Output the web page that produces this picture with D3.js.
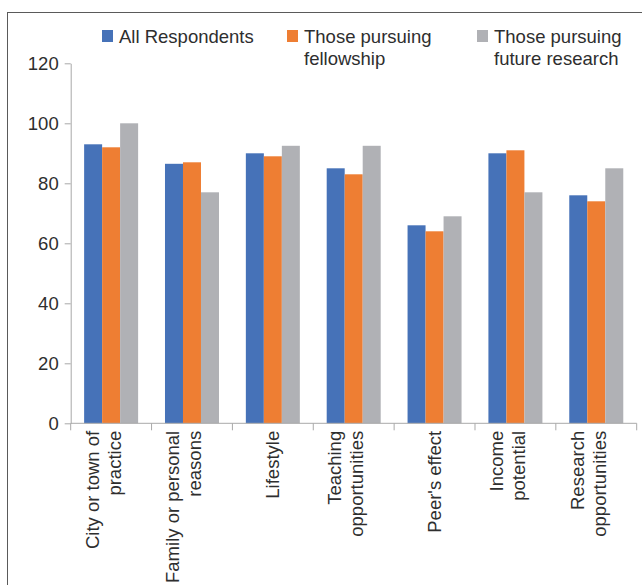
<!DOCTYPE html>
<html>
<head>
<meta charset="utf-8">
<script src="https://cdn.jsdelivr.net/npm/d3@7"></script>
<style>
  html, body { margin: 0; padding: 0; background: #fff; }
  svg { display: block; font-family: "Liberation Sans", Arial, sans-serif; }
</style>
</head>
<body>
<svg id="chart" width="642" height="585"></svg>
<script>
// Reasons for choosing a practice, by respondent group (%)
const categories = [
  "City or town of\npractice",
  "Family or personal\nreasons",
  "Lifestyle",
  "Teaching\nopportunities",
  "Peer's effect",
  "Income\npotential",
  "Research\nopportunities"
];
const allRespondents = [93, 86.5, 90, 85, 66, 90, 76];
const pursuingFellowship = [92, 87, 89, 83, 64, 91, 74];
const pursuingFutureResearch = [100, 77, 92.5, 92.5, 69, 77, 85];
const seriesNames = ["All Respondents", "Those pursuing\nfellowship", "Those pursuing\nfuture research"];
const seriesColors = ["#4672B8", "#EE7E33", "#B0B1B5"];
const yTicks = [0, 20, 40, 60, 80, 100, 120];

const seriesValues = [allRespondents, pursuingFellowship, pursuingFutureResearch];
const svg = d3.select("#chart");
const textColor = "#2e2e2e";
const axisColor = "#A9A9A9";
const fontSize = "18.5px";

// Outer frame
svg.append("rect")
  .attr("x", 7.5).attr("y", 12.5)
  .attr("width", 700).attr("height", 700)
  .attr("fill", "none").attr("stroke", "#5a5a5a").attr("stroke-width", 1);

const plotLeft = 70.7, plotRight = 636.7, plotTop = 63.3, plotBottom = 423.3;

const y = d3.scaleLinear().domain([0, 120]).range([plotBottom, plotTop]);
const x0 = d3.scaleBand().domain(d3.range(categories.length)).range([plotLeft, plotRight]).padding(0);
const x1 = d3.scaleBand().domain(d3.range(seriesValues.length)).range([0, x0.bandwidth()])
  .paddingInner(0).paddingOuter(0.746);

// Bars
const groups = svg.append("g").selectAll("g")
  .data(categories.map((c, i) => i))
  .join("g")
  .attr("transform", i => `translate(${x0(i)},0)`);

groups.selectAll("rect")
  .data(i => seriesValues.map((vals, s) => ({ s, v: vals[i] })))
  .join("rect")
  .attr("x", d => x1(d.s))
  .attr("width", x1.bandwidth())
  .attr("y", d => y(d.v))
  .attr("height", d => y(0) - y(d.v))
  .attr("fill", d => seriesColors[d.s]);

// Y axis
const yAxis = svg.append("g")
  .attr("transform", `translate(${plotLeft},0)`)
  .call(d3.axisLeft(y).tickValues(yTicks).tickSize(6).tickSizeOuter(0).tickPadding(6));
yAxis.select(".domain").attr("stroke", axisColor);
yAxis.selectAll(".tick line").attr("stroke", axisColor);
yAxis.selectAll(".tick text")
  .attr("fill", textColor)
  .style("font-size", fontSize)
  .style("font-family", "'Liberation Sans', Arial, sans-serif");

// X axis: baseline with ticks on category boundaries
const boundaries = d3.range(categories.length + 1).map(i => i === categories.length ? plotRight : x0(i));
const xAxis = svg.append("g");
xAxis.append("line")
  .attr("x1", plotLeft).attr("x2", plotRight)
  .attr("y1", y(0)).attr("y2", y(0))
  .attr("stroke", axisColor);
xAxis.selectAll("line.tick")
  .data(boundaries)
  .join("line")
  .attr("class", "tick")
  .attr("x1", d => d).attr("x2", d => d)
  .attr("y1", y(0)).attr("y2", y(0) + 7)
  .attr("stroke", axisColor);

// Rotated category labels
const labels = xAxis.selectAll("text")
  .data(categories)
  .join("text")
  .attr("transform", (d, i) => `translate(${x0(i) + x0.bandwidth() / 2},${y(0) + 7.5}) rotate(-90)`)
  .attr("text-anchor", "end")
  .attr("fill", textColor)
  .style("font-size", fontSize);
labels.each(function (d) {
  const lines = d.split("\n");
  const offsets = lines.length === 1 ? [6.5] : [-12.5, 9.5];
  d3.select(this).selectAll("tspan")
    .data(lines)
    .join("tspan")
    .attr("x", 0)
    .attr("y", (l, k) => offsets[k])
    .text(l => l);
});

// Legend
const legendX = [102, 287, 477];
const legend = svg.append("g").selectAll("g")
  .data(seriesNames)
  .join("g")
  .attr("transform", (d, i) => `translate(${legendX[i]},30)`);
legend.append("rect")
  .attr("width", 11).attr("height", 12)
  .attr("fill", (d, i) => seriesColors[i]);
legend.append("text")
  .attr("fill", textColor)
  .style("font-size", fontSize)
  .selectAll("tspan")
  .data(d => d.split("\n"))
  .join("tspan")
  .attr("x", 17)
  .attr("y", (l, k) => 12.6 + k * 22.5)
  .text(l => l);
</script>
</body>
</html>
